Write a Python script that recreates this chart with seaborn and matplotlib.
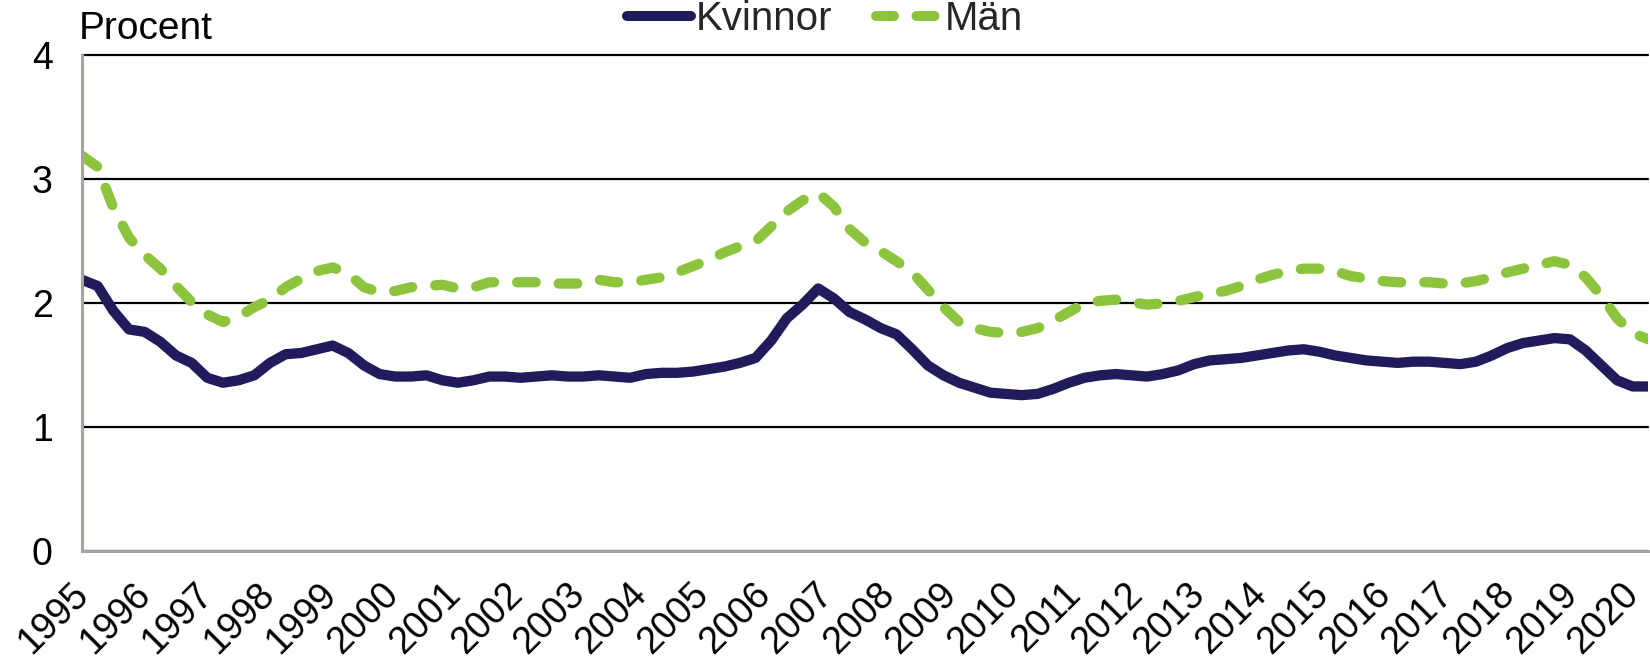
import numpy as np
import pandas as pd
import seaborn as sns
import matplotlib.pyplot as plt
from matplotlib.transforms import ScaledTranslation

# Kvartalsvärden 1995 Q1 -> 2020 Q1 (procent)
start_year = 1995
end_year = 2020
x_end = 2020.25   # linjerna går en bit förbi 2020-etiketten

kvinnor = [
    2.19, 2.14, 1.94, 1.79,   # 1995
    1.77, 1.69, 1.58, 1.52,   # 1996
    1.40, 1.36, 1.38, 1.42,   # 1997
    1.52, 1.59, 1.60, 1.63,   # 1998
    1.66, 1.60, 1.50, 1.43,   # 1999
    1.41, 1.41, 1.42, 1.38,   # 2000
    1.36, 1.38, 1.41, 1.41,   # 2001
    1.40, 1.41, 1.42, 1.41,   # 2002
    1.41, 1.42, 1.41, 1.40,   # 2003
    1.43, 1.44, 1.44, 1.45,   # 2004
    1.47, 1.49, 1.52, 1.56,   # 2005
    1.70, 1.88, 1.99, 2.12,   # 2006
    2.04, 1.93, 1.87, 1.80,   # 2007
    1.75, 1.63, 1.50, 1.42,   # 2008
    1.36, 1.32, 1.28, 1.27,   # 2009
    1.26, 1.27, 1.31, 1.36,   # 2010
    1.40, 1.42, 1.43, 1.42,   # 2011
    1.41, 1.43, 1.46, 1.51,   # 2012
    1.54, 1.55, 1.56, 1.58,   # 2013
    1.60, 1.62, 1.63, 1.61,   # 2014
    1.58, 1.56, 1.54, 1.53,   # 2015
    1.52, 1.53, 1.53, 1.52,   # 2016
    1.51, 1.53, 1.58, 1.64,   # 2017
    1.68, 1.70, 1.72, 1.71,   # 2018
    1.62, 1.50, 1.38, 1.33,   # 2019
    1.33,                     # 2020
]

man = [
    3.19, 3.10, 2.77, 2.53,   # 1995
    2.39, 2.28, 2.14, 2.01,   # 1996
    1.91, 1.85, 1.89, 1.97,   # 1997
    2.03, 2.13, 2.20, 2.26,   # 1998
    2.29, 2.24, 2.13, 2.09,   # 1999
    2.10, 2.13, 2.14, 2.15,   # 2000
    2.12, 2.13, 2.17, 2.17,   # 2001
    2.17, 2.17, 2.16, 2.16,   # 2002
    2.16, 2.19, 2.17, 2.17,   # 2003
    2.19, 2.21, 2.25, 2.30,   # 2004
    2.35, 2.41, 2.46, 2.50,   # 2005
    2.62, 2.74, 2.83, 2.89,   # 2006
    2.78, 2.60, 2.49, 2.42,   # 2007
    2.34, 2.25, 2.11, 1.97,   # 2008
    1.85, 1.80, 1.77, 1.76,   # 2009
    1.77, 1.80, 1.86, 1.93,   # 2010
    2.00, 2.02, 2.03, 2.01,   # 2011
    1.99, 2.00, 2.02, 2.05,   # 2012
    2.08, 2.10, 2.14, 2.19,   # 2013
    2.23, 2.26, 2.28, 2.28,   # 2014
    2.26, 2.22, 2.20, 2.18,   # 2015
    2.17, 2.17, 2.17, 2.16,   # 2016
    2.16, 2.18, 2.21, 2.25,   # 2017
    2.28, 2.31, 2.34, 2.31,   # 2018
    2.21, 2.06, 1.88, 1.76,   # 2019
    1.71,                     # 2020
]

# avläsningarna gjordes med jämna steg över hela x-axeln
years = list(np.linspace(start_year, x_end, len(kvinnor)))
tick_years = list(range(start_year, end_year + 1))

df = pd.DataFrame({
    "år": years * 2,
    "procent": kvinnor + man,
    "kön": ["Kvinnor"] * len(kvinnor) + ["Män"] * len(man),
})

sns.set_theme(style="white")
plt.rcParams["font.family"] = ["Liberation Sans", "DejaVu Sans"]

fig = plt.figure(figsize=(16.5, 6.66), dpi=100)
ax = fig.add_axes([0.0497, 0.172, 0.9493, 0.745])

farger = {"Kvinnor": "#201c5c", "Män": "#8dc43e"}
streck = (1.8, 2.25)
sns.lineplot(data=df, x="år", y="procent", hue="kön", style="kön",
             palette=farger, dashes={"Kvinnor": "", "Män": streck},
             linewidth=7.4, ax=ax, legend=False, zorder=3)
for line in ax.lines:
    line.set_linewidth(7.4)
    line.set_dash_capstyle("round")
    line.set_solid_capstyle("round")
    line.set_solid_joinstyle("round")
    line.set_dash_joinstyle("round")

ax.set_xlim(start_year, x_end)
ax.set_ylim(0, 4)
ax.set_yticks([0, 1, 2, 3, 4])
ax.set_xticks(tick_years)
ax.set_xticklabels([str(y) for y in tick_years], rotation=45, ha="right",
                   va="top", rotation_mode="anchor")
ax.tick_params(axis="both", length=0, labelsize=27, colors="black")
ax.tick_params(axis="y", pad=21)
ax.tick_params(axis="x", pad=18)
forskjut = ScaledTranslation(-12 / 100, 0, fig.dpi_scale_trans)
for lab in ax.get_xticklabels():
    lab.set_transform(lab.get_transform() + forskjut)
ax.set_xlabel("")
ax.set_ylabel("")

ax.yaxis.grid(True, color="black", lw=1.6)
ax.xaxis.grid(False)
for gl in ax.get_ygridlines():
    gl.set_clip_on(False)

for side in ["top", "right"]:
    ax.spines[side].set_visible(False)
for side in ["left", "bottom"]:
    ax.spines[side].set_color("#a9a39d")
    ax.spines[side].set_linewidth(2.2)
    ax.spines[side].set_zorder(4)

fig.text(0.048, 1 - 39 / 666, "Procent", fontsize=28, va="baseline",
         ha="left", color="black")

handles = [
    plt.Line2D([], [], color=farger["Kvinnor"], lw=7.2, solid_capstyle="round"),
    plt.Line2D([], [], color=farger["Män"], lw=7.2, dashes=streck,
               dash_capstyle="round"),
]
fig.legend(handles, ["Kvinnor", "Män"], loc="center", ncol=2,
           bbox_to_anchor=(0.5, 0.972), frameon=False, fontsize=29,
           handlelength=1.6, handletextpad=0.1, columnspacing=1.1)

fig.savefig("out.png", dpi=100)
